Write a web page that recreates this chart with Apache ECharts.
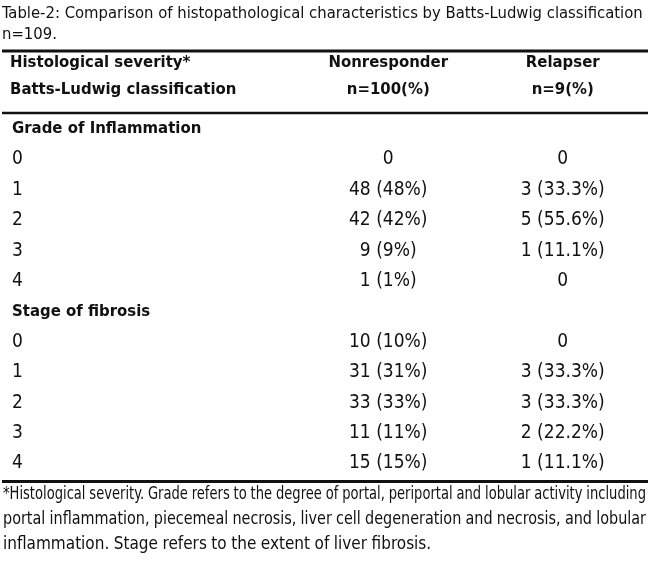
<!DOCTYPE html>
<html>
<head>
<meta charset="utf-8">
<title>Table-2</title>
<script src="https://cdn.jsdelivr.net/npm/echarts@6/dist/echarts.min.js"></script>
<style>
  html, body { margin: 0; padding: 0; background: #fff; }
  #chart { width: 650px; height: 564px; }
</style>
</head>
<body>
<div id="chart"></div>
<script>
// table content
var caption = ['Table-2: Comparison of histopathological characteristics by Batts-Ludwig classification', 'n=109.'];
var rowHeader = ['Histological severity*', 'Batts-Ludwig classification'];
var groups = ['Nonresponder\nn=100(%)', 'Relapser\nn=9(%)'];
var rowLabels = ['Grade of Inflammation', '0', '1', '2', '3', '4', 'Stage of fibrosis', '0', '1', '2', '3', '4'];
var sectionRows = [0, 6];
var nonresponder = ['', '0', '48 (48%)', '42 (42%)', '9 (9%)', '1 (1%)', '', '10 (10%)', '31 (31%)', '33 (33%)', '11 (11%)', '15 (15%)'];
var relapser = ['', '0', '3 (33.3%)', '5 (55.6%)', '1 (11.1%)', '0', '', '0', '3 (33.3%)', '3 (33.3%)', '2 (22.2%)', '1 (11.1%)'];
var footnote = [
  '*Histological severity. Grade refers to the degree of portal, periportal and lobular activity including',
  'portal inflammation, piecemeal necrosis, liver cell degeneration and necrosis, and lobular',
  'inflammation. Stage refers to the extent of liver fibrosis.'
];

var FONT = 'DejaVu Sans Condensed';
var INK = '#111';

var chart = echarts.init(document.getElementById('chart'));

function cells(col, texts) {
  var res = [];
  for (var i = 0; i < texts.length; i++) {
    if (texts[i] === '') continue;
    res.push({ name: texts[i], value: [col, i] });
  }
  return res;
}

// measure with zrender itself so the widths match what gets drawn
function textWidth(str, font) {
  var t = new echarts.graphic.Text({ style: { text: str, font: font } });
  return t.getBoundingRect().width;
}

// justified footnote: one group per line, squeezed when the words don't fit
function footnoteLines() {
  var out = [];
  var font = '17px ' + FONT, left = 3, right = 646, top = 495, lh = 25, minGap = 4.5;
  var avail = right - left;
  for (var l = 0; l < footnote.length; l++) {
    var last = l == footnote.length - 1;
    var words = footnote[l].split(' ');
    var widths = words.map(function (w) { return textWidth(w, font); });
    var sum = widths.reduce(function (a, b) { return a + b; }, 0);
    var natural = sum + minGap * (words.length - 1);
    var scale = natural > avail ? avail / natural : 1;
    var gap = last ? minGap : (avail / scale - sum) / (words.length - 1);
    var kids = [], x = 0;
    words.forEach(function (w, i) {
      kids.push({ type: 'text', x: x, y: 0, style: { text: w, font: font, fill: INK, verticalAlign: 'middle' } });
      x += widths[i] + gap;
    });
    out.push({ type: 'group', x: left, y: top + l * lh, scaleX: scale, children: kids });
  }
  return out;
}

var labelStyle = {
  show: true,
  position: 'inside',
  formatter: '{b}',
  color: INK,
  opacity: 1,
  fontFamily: FONT,
  fontSize: 19
};

var option = {
  backgroundColor: '#fff',
  animation: false,
  title: {
    text: caption.join('\n'),
    left: 2,
    top: 3,
    padding: 0,
    textStyle: { fontFamily: FONT, fontWeight: 'normal', fontSize: 16.5, lineHeight: 21, color: INK }
  },
  grid: { left: 301, width: 370, top: 113.8, height: 364.8 },
  xAxis: {
    type: 'category',
    position: 'top',
    data: groups,
    axisLine: { show: false },
    axisTick: { show: false },
    splitLine: { show: false },
    axisLabel: {
      interval: 0,
      margin: 11,
      color: INK,
      fontFamily: FONT,
      fontWeight: 'bold',
      fontSize: 16.6,
      lineHeight: 27
    }
  },
  yAxis: {
    type: 'category',
    inverse: true,
    data: rowLabels,
    axisLine: { show: false },
    axisTick: { show: false },
    splitLine: { show: false },
    axisLabel: {
      interval: 0,
      margin: 289,
      align: 'left',
      color: INK,
      fontFamily: FONT,
      fontSize: 19,
      formatter: function (value, index) {
        return sectionRows.indexOf(index) >= 0 ? '{h|' + value + '}' : value;
      },
      rich: {
        h: { fontFamily: FONT, fontWeight: 'bold', fontSize: 16.6, color: INK }
      }
    }
  },
  series: [
    { name: 'Nonresponder', type: 'scatter', symbolSize: 0, itemStyle: { opacity: 1 }, data: cells(0, nonresponder), label: labelStyle },
    { name: 'Relapser', type: 'scatter', symbolSize: 0, itemStyle: { opacity: 1 }, data: cells(1, relapser), label: labelStyle }
  ],
  graphic: [
    { type: 'line', shape: { x1: 2, y1: 51, x2: 648, y2: 51 }, style: { stroke: INK, lineWidth: 3 } },
    { type: 'line', shape: { x1: 2, y1: 113, x2: 648, y2: 113 }, style: { stroke: INK, lineWidth: 2.5 } },
    { type: 'line', shape: { x1: 2, y1: 481.5, x2: 648, y2: 481.5 }, style: { stroke: INK, lineWidth: 3 } },
    {
      type: 'text', x: 10, y: 49,
      style: { text: rowHeader.join('\n'), font: 'bold 16.6px ' + FONT, lineHeight: 27, fill: INK }
    }
  ].concat(footnoteLines())
};

chart.setOption(option);
</script>
</body>
</html>
